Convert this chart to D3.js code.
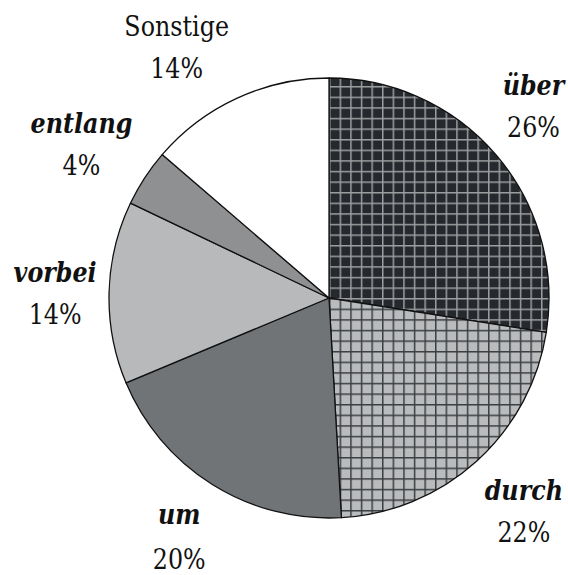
<!DOCTYPE html>
<html>
<head>
<meta charset="utf-8">
<script src="https://cdn.jsdelivr.net/npm/d3@7"></script>
<style>
  html, body { margin: 0; padding: 0; background: #fff; }
</style>
</head>
<body>
<script>
// slice names, measured slice sizes (from the drawing) and printed percentages
var categories = ["über", "durch", "um", "vorbei", "entlang", "Sonstige"];
var shares = [27.5, 21.6, 19.6, 13.4, 4.2, 13.7];
var percentLabels = ["26%", "22%", "20%", "14%", "4%", "14%"];
var italicNames = [true, true, true, true, true, false];

var width = 568,
    height = 575,
    cx = 329,
    cy = 298,
    radius = 220,
    font = "DejaVu Serif";

// small hand nudges so labels sit where the original put them
var labelNudge = [[-13, -7], [3, 0], [2, -6], [12, 1], [-8, 1], [-33, 8]];

var svg = d3.select("body").append("svg")
    .attr("width", width)
    .attr("height", height);

var defs = svg.append("defs");

function grid(id, bg, line) {
  var p = defs.append("pattern")
      .attr("id", id)
      .attr("patternUnits", "userSpaceOnUse")
      .attr("width", 10.6)
      .attr("height", 10.6);
  p.append("rect").attr("width", 10.6).attr("height", 10.6).attr("fill", bg);
  p.append("rect").attr("x", 0).attr("y", 0).attr("width", 1.5).attr("height", 10.6).attr("fill", line);
  p.append("rect").attr("x", 0).attr("y", 0).attr("width", 10.6).attr("height", 1.5).attr("fill", line);
}
grid("gridDark", "#25282c", "#9c9ea0");
grid("gridLight", "#b9bbbd", "#3c3f42");

var fills = ["url(#gridDark)", "url(#gridLight)", "#717477", "#b7b9bb", "#8e9092", "#ffffff"];

var g = svg.append("g")
    .attr("transform", "translate(" + cx + "," + cy + ")");

var pie = d3.pie().sort(null).value(function(d){ return d; });
var arcs = pie(shares);

var arc = d3.arc().innerRadius(0).outerRadius(radius);
var labelArc = d3.arc().innerRadius(286).outerRadius(286);

g.selectAll("path.slice")
    .data(arcs)
  .enter().append("path")
    .attr("class", "slice")
    .attr("d", arc)
    .attr("fill", function(d, i){ return fills[i]; })
    .attr("stroke", "#111")
    .attr("stroke-width", 1.3)
    .attr("stroke-linejoin", "round");

// the original uses a narrow Times face; squeeze DejaVu Serif a little
var labels = g.selectAll("g.label")
    .data(arcs)
  .enter().append("g")
    .attr("class", "label")
    .attr("transform", function(d, i){
      var c = labelArc.centroid(d);
      return "translate(" + (c[0] + labelNudge[i][0]) + "," + (c[1] + labelNudge[i][1]) + ") scale(0.85,1)";
    });

labels.append("text")
    .attr("text-anchor", "middle")
    .attr("y", -10)
    .attr("font-family", font)
    .attr("font-size", 28)
    .attr("fill", "#111")
    .attr("font-weight", function(d, i){ return italicNames[i] ? "bold" : "normal"; })
    .attr("font-style", function(d, i){ return italicNames[i] ? "italic" : "normal"; })
    .text(function(d, i){ return categories[i]; });

labels.append("text")
    .attr("text-anchor", "middle")
    .attr("y", function(d, i){ return i === 2 ? 35 : 32; })
    .attr("font-family", font)
    .attr("font-size", 28)
    .attr("fill", "#111")
    .text(function(d, i){ return percentLabels[i]; });
</script>
</body>
</html>
